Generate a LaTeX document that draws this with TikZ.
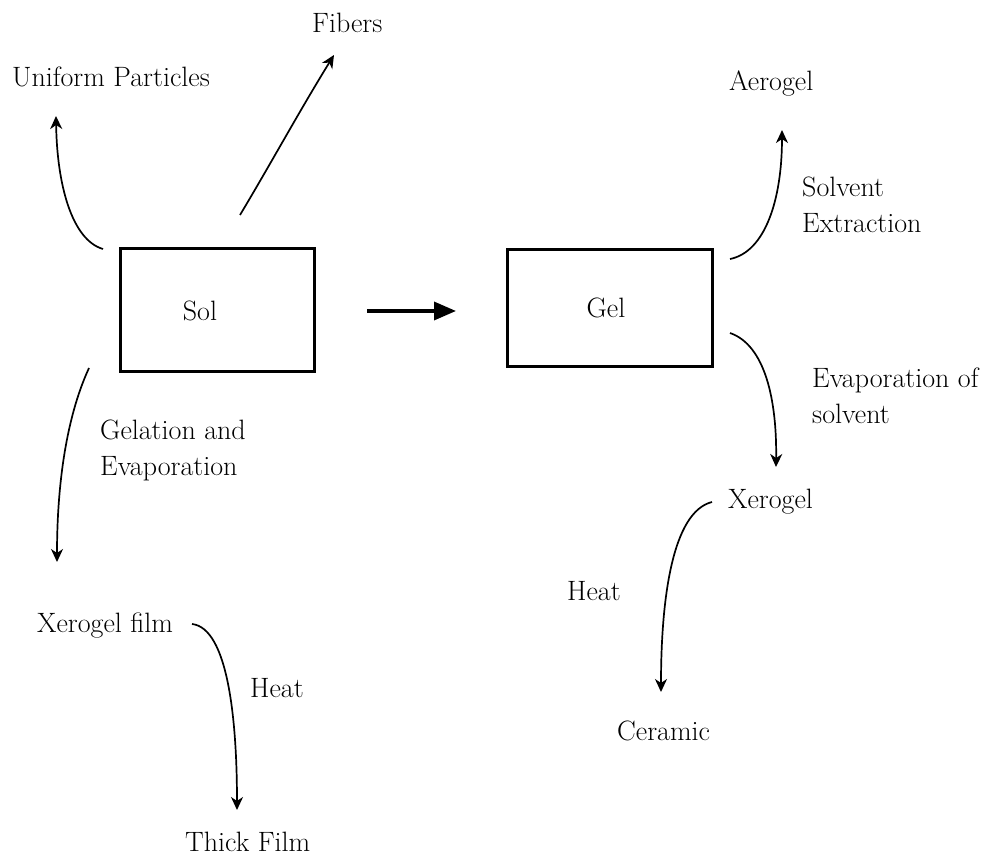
\documentclass[tikz,border=0pt]{standalone}
\usetikzlibrary{arrows.meta}
\begin{document}
\begin{tikzpicture}[x=1pt,y=-1pt,
  lbl/.style={inner sep=0pt, font=\fontsize{28}{36}\selectfont, align=left},
  boxnode/.style={draw, line width=3pt, inner sep=0pt},
  flow/.style={line width=1.7pt, -{Stealth[length=13pt,width=12pt,inset=4pt]}},
  bigflow/.style={line width=3.5pt, -{Triangle[length=22pt,width=18pt]}}]
\useasboundingbox (0,0) rectangle (988,858);
\fill[white] (0,0) rectangle (988,858);
% boxes
\node[boxnode, minimum width=194pt, minimum height=123pt] (sol) at (217,310.5) {};
\node[boxnode, minimum width=205pt, minimum height=117pt] (gel) at (609.5,308.5) {};
\node[lbl, anchor=base] (soltxt) at (200,321) {Sol};
\node[lbl, anchor=base] (geltxt) at (606,318) {Gel};
% product labels
\node[lbl, anchor=base west] (unif) at (12,87) {Uniform Particles};
\node[lbl, anchor=base west] (fib) at (312,33) {Fibers};
\node[lbl, anchor=base west] (aero) at (729,91) {Aerogel};
\node[lbl, anchor=base west] (xero) at (728,508) {Xerogel};
\node[lbl, anchor=base west] (cer) at (617,740) {Ceramic};
\node[lbl, anchor=base west] (xfilm) at (37,632) {Xerogel film};
\node[lbl, anchor=base west] (thick) at (185,851) {Thick Film};
% process labels
\node[lbl, anchor=north west] (solv) at (802,177) {Solvent\\Extraction};
\node[lbl, anchor=north west] (evap) at (812,368) {Evaporation of\\solvent};
\node[lbl, anchor=base west] (heatr) at (567,600) {Heat};
\node[lbl, anchor=north west] (gelat) at (100,420) {Gelation and\\Evaporation};
\node[lbl, anchor=base west] (heatl) at (250,697) {Heat};
% connector end points
\coordinate (a1s) at (367,311); \coordinate (a1e) at (456,311);
\coordinate (u1) at (103,249);  \coordinate (u2) at (56,116);
\coordinate (f1) at (240,215);  \coordinate (f2) at (334,55);
\coordinate (ae1) at (730,259); \coordinate (ae2) at (782,130);
\coordinate (x1) at (730,333);  \coordinate (x2) at (776,467);
\coordinate (c1) at (712,502);  \coordinate (c2) at (661,692);
\coordinate (g1) at (89,368);   \coordinate (g2) at (57,562);
\coordinate (t1) at (192,624);  \coordinate (t2) at (237,810);
% connectors
\draw[bigflow] (a1s) -- (a1e);
\draw[flow] (u1) .. controls (72,240) and (57,185) .. (u2);
\draw[flow] (f1) .. controls (270,165) and (300,110) .. (f2);
\draw[flow] (ae1) .. controls (765,252) and (782,200) .. (ae2);
\draw[flow] (x1) .. controls (765,345) and (777,400) .. (x2);
\draw[flow] (c1) .. controls (672,512) and (661,600) .. (c2);
\draw[flow] (g1) .. controls (65,420) and (57,490) .. (g2);
\draw[flow] (t1) .. controls (228,628) and (237,720) .. (t2);
\end{tikzpicture}
\end{document}
